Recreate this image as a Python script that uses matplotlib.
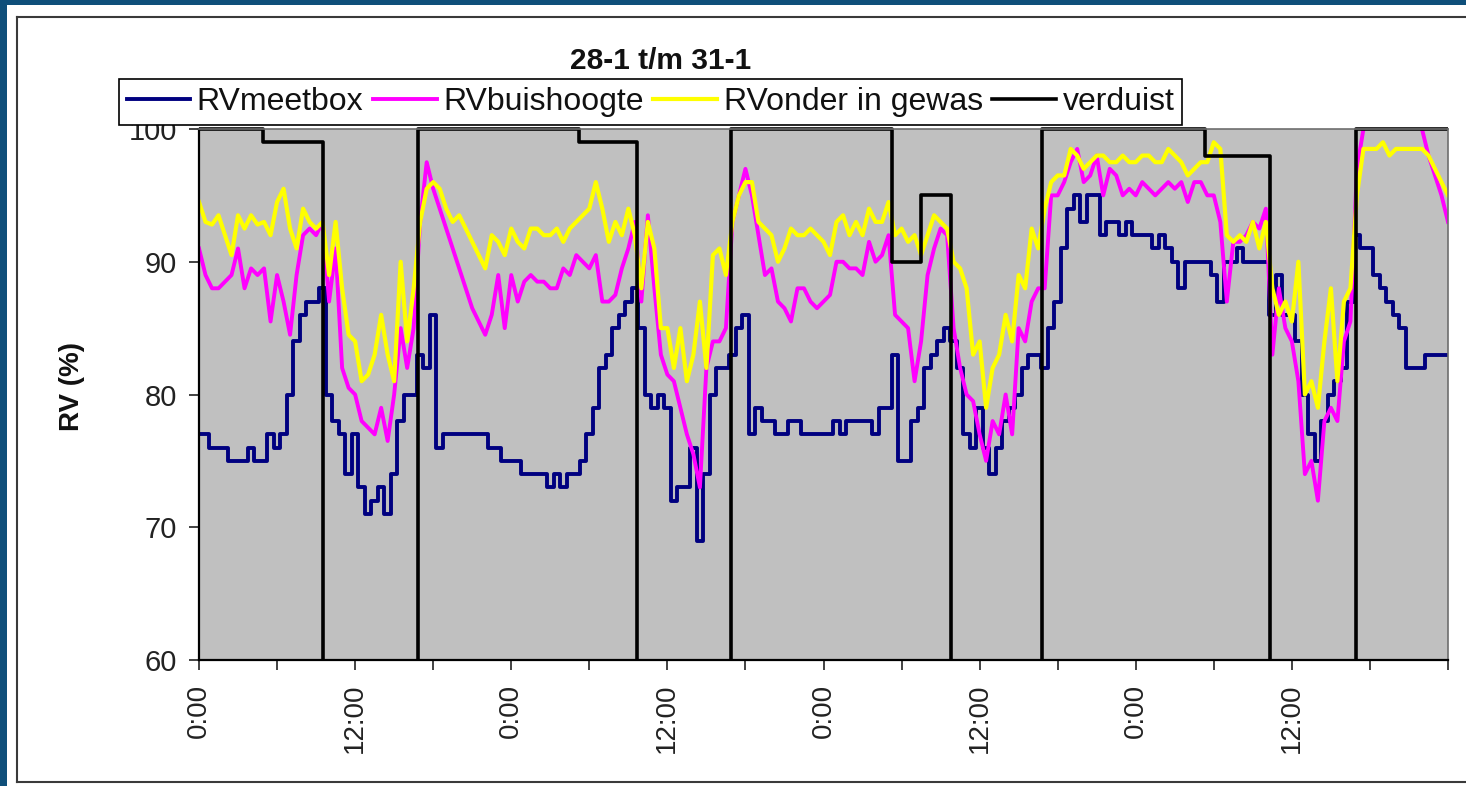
import numpy as np
import matplotlib
matplotlib.use("Agg")
import matplotlib.pyplot as plt
from matplotlib.lines import Line2D
from matplotlib.patches import Rectangle
from matplotlib.transforms import Bbox, TransformedBbox

plt.rcParams["font.family"] = ["Liberation Sans", "DejaVu Sans"]

# half-hour samples, 28-1 0:00 .. 1-2 0:00 (96 h)
hours = np.arange(193) * 0.5

rv_meetbox = [
    77, 77, 76, 76, 76, 75, 75, 75, 76, 75, 75, 77, 76, 77, 80, 84, 86, 87, 87, 88, 80, 78, 77, 74,
    77, 73, 71, 72, 73, 71, 74, 78, 80, 80, 83, 82, 86, 76, 77, 77, 77, 77, 77, 77, 77, 76, 76, 75,
    75, 75, 74, 74, 74, 74, 73, 74, 73, 74, 74, 75, 77, 79, 82, 83, 85, 86, 87, 88, 85, 80, 79, 80,
    79, 72, 73, 73, 76, 69, 74, 80, 82, 82, 83, 85, 86, 77, 79, 78, 78, 77, 77, 78, 78, 77, 77, 77,
    77, 77, 78, 77, 78, 78, 78, 78, 77, 79, 79, 83, 75, 75, 78, 79, 82, 83, 84, 85, 84, 82, 77, 76,
    79, 76, 74, 76, 78, 79, 80, 82, 83, 83, 82, 85, 87, 91, 94, 95, 93, 95, 95, 92, 93, 93, 92, 93,
    92, 92, 92, 91, 92, 91, 90, 88, 90, 90, 90, 90, 89, 87, 90, 90, 91, 90, 90, 90, 90, 86, 89, 86,
    86, 84, 80, 77, 75, 78, 80, 81, 82, 87, 92, 91, 91, 89, 88, 87, 86, 85, 82, 82, 82, 83, 83, 83,
    83,
]

rv_buishoogte = [
    91, 89, 88, 88, 88.5, 89, 91, 88, 89.5, 89, 89.5, 85.5, 89, 87, 84.5, 89, 92, 92.5, 92, 93, 87, 91, 82, 80.5,
    80, 78, 77.5, 77, 79, 76.5, 80, 85, 82, 85, 93, 97.5, 95.5, 94, 92.5, 91, 89.5, 88, 86.5, 85.5, 84.5, 86, 89, 85,
    89, 87, 88.5, 89, 88.5, 88.5, 88, 88, 89.5, 89, 90.5, 90, 89.5, 90.5, 87, 87, 87.5, 89.5, 91, 93, 87, 93.5, 88, 83,
    81.5, 81, 79, 77, 75.5, 73, 82, 84, 84, 85, 93, 95, 97, 95, 92, 89, 89.5, 87, 86.5, 85.5, 88, 88, 87, 86.5,
    87, 87.5, 90, 90, 89.5, 89.5, 89, 91.5, 90, 90.5, 92, 86, 85.5, 85, 81, 84, 89, 91, 92.5, 92, 85, 82, 80, 79.5,
    77, 75, 78, 77, 80, 77, 85, 84, 87, 88, 88, 95, 95, 96, 97.5, 98.5, 96, 96.5, 98, 95, 97, 96.5, 95, 95.5,
    95, 96, 95.5, 95, 95.5, 96, 95.5, 96, 94.5, 96, 96, 95, 95, 93, 87, 91.5, 91.5, 92, 93, 92.5, 94, 83, 88, 85,
    84, 81, 74, 75, 72, 78, 79, 78, 84, 85.5, 97, 100, 100.5, 101, 101, 101, 101, 101, 101, 100.5, 100, 98, 96.5, 95,
    93,
]

rv_onder_gewas = [
    94.5, 93, 92.8, 93.5, 92, 90.5, 93.5, 92.5, 93.5, 92.8, 93, 92, 94.5, 95.5, 92.5, 91, 94, 93, 92.5, 93, 89, 93, 88, 84.5,
    84, 81, 81.5, 83, 86, 83, 81, 90, 84, 88, 93, 95.5, 96, 95.5, 94, 93, 93.5, 92.5, 91.5, 90.5, 89.5, 92, 91.5, 90.5,
    92.5, 91.5, 91, 92.5, 92.5, 92, 92, 92.5, 91.5, 92.5, 93, 93.5, 94, 96, 94, 91.5, 93, 92, 94, 92, 88, 93, 91, 85,
    85, 82, 85, 81, 83, 87, 82, 90.5, 91, 89, 93, 95, 96, 96, 93, 92.5, 92, 90, 91, 92.5, 92, 92, 92.5, 92,
    91.5, 90.5, 93, 93.5, 92, 93, 92, 94, 93, 93, 94.5, 92, 92.5, 91.5, 92, 90.5, 92, 93.5, 93, 92.5, 90, 89.5, 88, 83,
    84, 79, 82, 83, 86, 84, 89, 88, 92.5, 91, 94, 96, 96.5, 96.5, 98.5, 98, 97, 97.5, 98, 98, 97.5, 97.5, 98, 97.5,
    97.5, 98, 98, 97.5, 97.5, 98.5, 98, 97.5, 96.5, 97, 97.5, 97.5, 99, 98.5, 92, 91.5, 92, 91.5, 93, 91, 93, 88, 86, 87,
    85.5, 90, 80, 81, 79, 84, 88, 81, 87, 88, 95, 98.5, 98.5, 98.5, 99, 98, 98.5, 98.5, 98.5, 98.5, 98.5, 98, 97, 96,
    95,
]

# screen (verduisteringsdoek) position, step changes
verduist_h = [0, 4.9, 9.55, 16.8, 29.2, 33.7, 40.9, 53.3, 55.5, 57.8, 64.8, 77.3, 82.3, 88.9, 96]
verduist_v = [100, 99, 0, 100, 99, 0, 100, 90, 95, 0, 100, 98, 0, 100, 100]

tick_hours = [0, 12, 24, 36, 48, 60, 72, 84]
tick_labels = ["0:00", "12:00", "0:00", "12:00", "0:00", "12:00", "0:00", "12:00"]
minor_hours = [6, 18, 30, 42, 54, 66, 78, 90, 96]

W, H = 1466, 786
fig = plt.figure(figsize=(W / 100, H / 100), dpi=100)
fig.patch.set_facecolor("white")

# outer frame of the slide / chart area
fig.patches.append(Rectangle((0, 0), 7 / W, 1, transform=fig.transFigure,
                             facecolor="#0f4f7a", edgecolor="none", zorder=0))
fig.patches.append(Rectangle((0, 1 - 5 / H), 1, 5 / H, transform=fig.transFigure,
                             facecolor="#0f4f7a", edgecolor="none", zorder=0))
for xs, ys in (([17 / W, 17 / W], [1 - 17 / H, 1 - 782 / H]),
               ([17 / W, 1], [1 - 17 / H, 1 - 17 / H]),
               ([17 / W, 1], [1 - 782 / H, 1 - 782 / H])):
    fig.add_artist(Line2D(xs, ys, transform=fig.transFigure, color="#3a3a3a", lw=1.5))

ax = fig.add_axes([199 / W, 1 - 660 / H, (1448 - 199) / W, (660 - 129) / H])
ax.set_facecolor("#c0c0c0")

ax.plot(hours, rv_meetbox, color="#000080", lw=2.8, drawstyle="steps-mid", label="RVmeetbox")
ax.plot(hours, rv_buishoogte, color="#ff00ff", lw=2.8, label="RVbuishoogte")
ax.plot(hours, rv_onder_gewas, color="#ffff00", lw=3.0, label="RVonder in gewas")
vl, = ax.plot(verduist_h, verduist_v, color="black", lw=2.6, drawstyle="steps-post", label="verduist")
# let the 100 % part of the screen line show at full width on the top border
vl.set_clip_box(TransformedBbox(Bbox([[0, 60], [96, 100.35]]), ax.transData))

ax.set_xlim(0, 96)
ax.set_ylim(60, 100)
ax.set_yticks([60, 70, 80, 90, 100])
ax.set_xticks(tick_hours)
ax.set_xticklabels(tick_labels, rotation=90)
ax.set_xticks(minor_hours, minor=True)
ax.tick_params(axis="y", direction="out", length=7, width=1.2, labelsize=21, pad=9, colors="#222222")
ax.tick_params(axis="x", which="both", direction="out", length=7, width=1.2, labelsize=20, pad=10,
               colors="#222222")

for side in ("left", "bottom"):
    ax.spines[side].set_color("black")
    ax.spines[side].set_linewidth(1.6)
for side in ("top", "right"):
    ax.spines[side].set_color("#6e6e6e")
    ax.spines[side].set_linewidth(1.2)

ax.set_ylabel("RV (%)", fontsize=20, fontweight="bold", color="#111111")
ax.yaxis.set_label_coords((85 - 199) / (1448 - 199), 0.516)

fig.text(661 / W, 1 - 61 / H, "28-1 t/m 31-1", ha="center", va="center",
         fontsize=21.5, fontweight="bold", color="#111111")

handles, labels = ax.get_legend_handles_labels()
leg = fig.legend(handles, labels, loc="center", bbox_to_anchor=(650.5 / W, 1 - 102 / H),
                 ncol=4, fontsize=23, frameon=True, fancybox=False, edgecolor="black",
                 framealpha=1, handlelength=2.0, handletextpad=0.2, columnspacing=0.3,
                 borderpad=0.25, borderaxespad=0)
leg.get_frame().set_linewidth(1.2)
for t in leg.get_texts():
    t.set_color("#111111")

fig.savefig("out.png", dpi=100)
